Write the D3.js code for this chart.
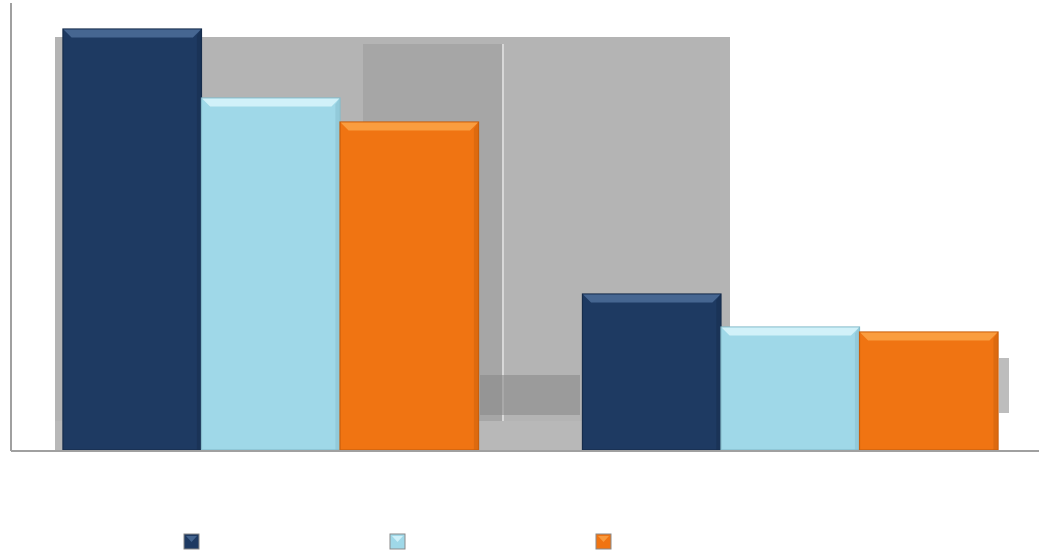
<!DOCTYPE html>
<html>
<head>
<meta charset="utf-8">
<script src="https://cdn.jsdelivr.net/npm/d3@7"></script>
<style>
  html, body { margin: 0; padding: 0; background: #ffffff; }
  svg { display: block; }
</style>
</head>
<body>
<svg id="chart" width="1039" height="551"></svg>
<script>
// ---- data ----
const categories = ["Group A", "Group B"];
const seriesNames = ["Series 1", "Series 2", "Series 3"];
const series1 = [42.1, 15.6];
const series2 = [35.2, 12.3];
const series3 = [32.8, 11.8];
const yMax = 45;

// ---- styles ----
const colors = ["#1e3a62", "#9fd8e8", "#f07412"];
const bevelColors = ["#4d6f9a", "#d9f6fc", "#fba448"];
const edgeColors = ["#162c4b", "#86bccb", "#c95f0c"];

const W = 1039, H = 551;
const plot = { left: 11, right: 1050, top: 0, bottom: 450 };

const svg = d3.select("#chart");

const rows = categories.map((c, i) => ({
  cat: c,
  vals: [series1[i], series2[i], series3[i]]
}));

const x0 = d3.scaleBand().domain(categories)
  .range([plot.left, plot.right]).paddingInner(0.2).paddingOuter(0.1);
const x1 = d3.scaleBand().domain(d3.range(seriesNames.length))
  .range([0, x0.bandwidth()]).padding(0);
const y = d3.scaleLinear().domain([0, yMax]).range([plot.bottom, plot.top]);

// background panel (decorative picture behind chart)
const bg = svg.append("g");
bg.append("rect").attr("x", 55).attr("y", 37).attr("width", 675).attr("height", 384).attr("fill", "#b4b4b4");
bg.append("rect").attr("x", 363).attr("y", 44).attr("width", 139).attr("height", 377).attr("fill", "#a6a6a6");
bg.append("rect").attr("x", 502).attr("y", 44).attr("width", 2).attr("height", 377).attr("fill", "#d8d8d8");
bg.append("rect").attr("x", 55).attr("y", 421).attr("width", 675).attr("height", 29).attr("fill", "#b8b8b8");
bg.append("rect").attr("x", 480).attr("y", 375).attr("width", 100).attr("height", 40).attr("fill", "#8a8a8a").attr("opacity", 0.6);
bg.append("rect").attr("x", 999).attr("y", 358).attr("width", 10).attr("height", 55).attr("fill", "#bdbdbd");

// bars
const groups = svg.append("g").selectAll("g").data(rows).join("g")
  .attr("transform", d => `translate(${x0(d.cat)},0)`);

const bars = groups.selectAll("g.bar").data(d => d.vals.map((v, i) => ({ v, i })))
  .join("g").attr("class", "bar");

bars.append("rect")
  .attr("x", d => x1(d.i))
  .attr("y", d => y(d.v))
  .attr("width", x1.bandwidth())
  .attr("height", d => y(0) - y(d.v))
  .attr("fill", d => colors[d.i])
  .attr("stroke", d => edgeColors[d.i])
  .attr("stroke-width", 1.2);

// top bevel highlight
const bv = 8;
bars.append("path")
  .attr("d", d => {
    const xl = x1(d.i) + 0.6, xr = x1(d.i) + x1.bandwidth() - 0.6, yt = y(d.v) + 0.6;
    return `M${xl},${yt} L${xr},${yt} L${xr - bv},${yt + bv} L${xl + bv},${yt + bv} Z`;
  })
  .attr("fill", d => bevelColors[d.i])
  .attr("opacity", 0.85);
// side shading
bars.append("path")
  .attr("d", d => {
    const xr = x1(d.i) + x1.bandwidth() - 0.6, yt = y(d.v) + 0.6, yb = y(0);
    return `M${xr},${yt} L${xr - 4},${yt + 6} L${xr - 4},${yb} L${xr},${yb} Z`;
  })
  .attr("fill", d => edgeColors[d.i])
  .attr("opacity", 0.5);

// axes
svg.append("line").attr("x1", plot.left).attr("x2", plot.left)
  .attr("y1", 3).attr("y2", y(0) + 1).attr("stroke", "#a0a0a0").attr("stroke-width", 2);
svg.append("line").attr("x1", plot.left).attr("x2", W)
  .attr("y1", y(0) + 1).attr("y2", y(0) + 1).attr("stroke", "#a0a0a0").attr("stroke-width", 2);

// legend swatches (labels not shown in reference)
const legX = d3.scalePoint().domain(d3.range(seriesNames.length)).range([184, 596]);
const leg = svg.append("g").selectAll("g").data(seriesNames).join("g")
  .attr("transform", (d, i) => `translate(${legX(i)},534)`);
leg.append("rect").attr("width", 15).attr("height", 15)
  .attr("fill", (d, i) => colors[i]).attr("stroke", "#8a8a8a").attr("stroke-width", 1);
leg.append("path").attr("d", "M2,2 L13,2 L7.5,8 Z")
  .attr("fill", (d, i) => bevelColors[i]).attr("opacity", 0.8);
</script>
</body>
</html>
